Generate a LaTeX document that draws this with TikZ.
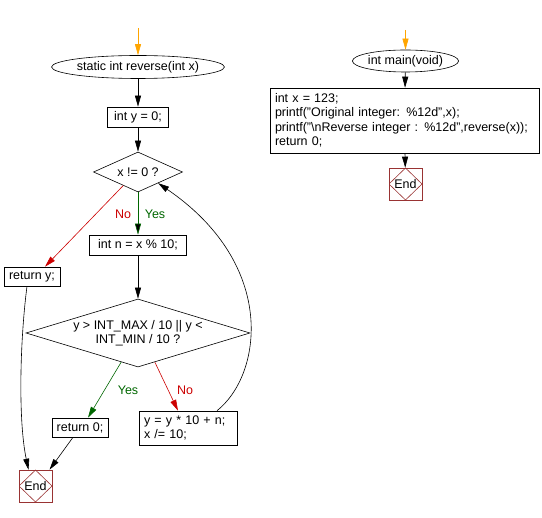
\documentclass[tikz,border=0pt]{standalone}
\usepackage{fontspec}
\setmainfont{Liberation Sans}
\usetikzlibrary{shapes.geometric,arrows.meta,calc}
\definecolor{entryorange}{HTML}{FFA500}
\definecolor{yesgreen}{HTML}{006600}
\definecolor{nored}{HTML}{CC0000}
\definecolor{endred}{HTML}{993333}
\begin{document}
\begin{tikzpicture}[x=1pt,y=-1pt,
  font=\fontsize{12.5}{14.5}\selectfont,
  every node/.style={inner sep=0pt, line width=0.6pt},
  startnode/.style={ellipse, draw},
  stepbox/.style={rectangle, draw},
  decision/.style={diamond, draw, align=center},
  endnode/.style={rectangle, draw=endred, minimum width=33pt, minimum height=32pt,
    path picture={\draw[endred, line width=0.6pt] (path picture bounding box.north) -- (path picture bounding box.east)
      -- (path picture bounding box.south) -- (path picture bounding box.west) -- cycle;}},
  flow/.style={-{Triangle[length=11pt,width=6pt]}, line width=0.6pt},
  entry/.style={flow, draw=entryorange},
  yesflow/.style={flow, draw=yesgreen},
  noflow/.style={flow, draw=nored}]
\useasboundingbox (0,0) rectangle (542,518);

\coordinate (in1) at (138,28);
\node[startnode, minimum width=147pt, minimum height=23pt] (start1) at (138,67) {static int reverse(int x)};
\node[stepbox, minimum width=61pt, minimum height=20pt] (y0) at (138,117) {int y = 0;};
\node[decision, aspect=2.2, minimum width=89pt, minimum height=40pt] (d1) at (138,172) {x != 0 ?};
\node[stepbox, minimum width=97pt, minimum height=20pt] (n) at (138,245) {int n = x \% 10;};
\node[stepbox, minimum width=56pt, minimum height=19pt] (ry) at (32,276.5) {return y;};
\node[decision, aspect=3.3, minimum width=224pt, minimum height=68pt] (d2) at (138,333) {y > INT\_MAX / 10 || y <\\INT\_MIN / 10 ?};
\node[stepbox, minimum width=56pt, minimum height=19pt] (r0) at (80,427.5) {return 0;};
\node[stepbox, align=left, text width=88pt, inner xsep=5pt, minimum height=34pt] (upd) at (188,428) {y = y * 10 + n;\\x /= 10;};
\node[endnode] (end1) at (35.5,486) {End};

\node[text=nored] (no1) at (123,214) {No};
\node[text=yesgreen] (yes1) at (155,214) {Yes};
\node[text=yesgreen] (yes2) at (128,390) {Yes};
\node[text=nored] (no2) at (185,390) {No};

\coordinate (in2) at (405.5,30);
\node[startnode, minimum width=91pt, minimum height=22pt] (start2) at (405.5,61) {int main(void)};
\node[stepbox, align=left, text width=259pt, inner xsep=5pt, minimum height=65pt] (mainbox) at (404.5,120.5) {int x = 123;\\printf("Original integer: \%12d",x);\\printf("\textbackslash nReverse integer : \%12d",reverse(x));\\return 0;};
\node[endnode] (end2) at (405.5,184) {End};

\draw[entry] (in1) -- (start1);
\draw[flow] (start1) edge (y0);
\draw[flow] (y0) edge (d1);
\draw[yesflow] (d1) edge (n);
\draw[noflow] ($(d1.south)!0.33!(d1.west)$) -- ([xshift=13pt]ry.north);
\draw[flow] (n) edge (d2);
\draw[yesflow] ($(d2.south)!0.15!(d2.west)$) -- ([xshift=8pt]r0.north);
\draw[noflow] ($(d2.south)!0.15!(d2.east)$) -- ([xshift=-10pt]upd.north);
\draw[flow] ([xshift=29pt]upd.north) .. controls (262,375) and (278,265) .. ($(d1.south)!0.45!(d1.east)$);
\draw[flow] ([xshift=-5pt]ry.south) .. controls (20,340) and (18,420) .. ([xshift=-7pt]end1.north);
\draw[flow] ([xshift=-7pt]r0.south) -- ([xshift=14pt]end1.north);

\draw[entry] (in2) -- (start2);
\draw[flow] (start2) edge (mainbox);
\draw[flow] (mainbox) edge (end2);

\end{tikzpicture}
\end{document}
